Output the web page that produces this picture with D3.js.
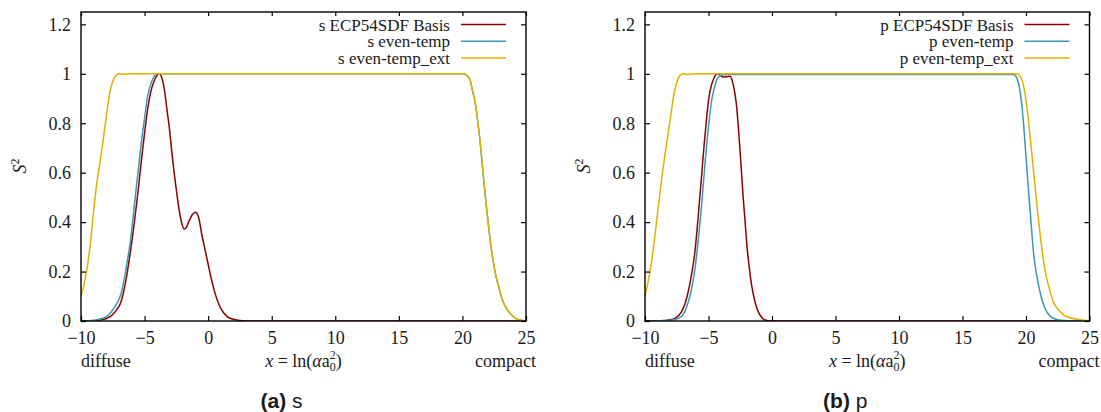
<!DOCTYPE html>
<html>
<head>
<meta charset="utf-8">
<script src="https://cdn.jsdelivr.net/npm/d3@7"></script>
<style>
  body { margin: 0; background: #fff; }
  svg text { font-family: "Liberation Serif", "DejaVu Serif", "Times New Roman", Times, serif; fill: #1a1a1a; }
  svg text.cap { font-family: "Liberation Sans", "DejaVu Sans", Arial, sans-serif; }
</style>
</head>
<body>
<div id="chart"></div>
<script>
const WIDTH = 1101;
const HEIGHT = 412;

// axis ticks
const xTicks = [-10, -5, 0, 5, 10, 15, 20, 25];
const yTicks = [0, 0.2, 0.4, 0.6, 0.8, 1, 1.2];

// s channel
const sRedX = [-10, -9, -8.5, -8, -7.6, -7.2, -6.85, -6.5, -6.2, -5.8, -5.5, -5.25, -5, -4.75, -4.5, -4.25, -4, -3.85, -3.65, -3.45, -3.25, -3.05, -2.85, -2.65, -2.45, -2.25, -2.05, -1.88, -1.7, -1.5, -1.25, -1, -0.75, -0.5, -0.25, 0, 0.25, 0.5, 1, 1.5, 2, 2.5, 3, 4, 25];
const sRedY = [0, 0.001, 0.004, 0.01, 0.022, 0.045, 0.078, 0.155, 0.25, 0.4, 0.53, 0.65, 0.76, 0.86, 0.93, 0.97, 0.995, 1, 0.985, 0.94, 0.86, 0.78, 0.68, 0.59, 0.51, 0.44, 0.39, 0.372, 0.38, 0.405, 0.43, 0.44, 0.42, 0.35, 0.29, 0.23, 0.17, 0.12, 0.05, 0.018, 0.007, 0.002, 0.0005, 0, 0];

const sBlueX = [-10, -9, -8.5, -8, -7.64, -7.25, -6.85, -6.6, -6.33, -6.07, -5.8, -5.54, -5.28, -5, -4.76, -4.5, -4.3, -4, 0, 10, 19.8];
const sBlueY = [0, 0.003, 0.008, 0.018, 0.035, 0.065, 0.11, 0.17, 0.25, 0.34, 0.47, 0.59, 0.71, 0.82, 0.91, 0.96, 0.985, 1, 1, 1, 1];

const sGoldX = [-10, -9.75, -9.5, -9.25, -9, -8.75, -8.5, -8.25, -8, -7.75, -7.5, -7.25, -7, -6.7, -6, 0, 10, 19.8];
const sGoldY = [0.1, 0.15, 0.22, 0.32, 0.45, 0.56, 0.645, 0.735, 0.83, 0.92, 0.97, 0.993, 1, 0.998, 1, 1, 1, 1];

// compact-side fall shared by s even-temp and s even-temp_ext
const sFallX = [20.1, 20.3, 20.6, 20.8, 21, 21.2, 21.4, 21.64, 21.85, 22.04, 22.25, 22.43, 22.62, 22.82, 23, 23.2, 23.5, 23.74, 24, 24.27, 24.6, 25];
const sFallY = [1, 0.995, 0.975, 0.93, 0.885, 0.81, 0.72, 0.59, 0.48, 0.39, 0.3, 0.24, 0.185, 0.146, 0.11, 0.078, 0.048, 0.031, 0.018, 0.008, 0.003, 0];

// p channel
const pRedX = [-10, -9, -8.5, -8, -7.64, -7.12, -6.85, -6.59, -6.33, -6.07, -5.8, -5.54, -5.35, -5.15, -4.95, -4.76, -4.55, -4.3, -4.1, -3.85, -3.6, -3.3, -3.15, -3.05, -2.92, -2.79, -2.66, -2.53, -2.4, -2.27, -2.13, -2, -1.8, -1.61, -1.35, -1.09, -0.8, -0.56, -0.3, 0, 25];
const pRedY = [0, 0.0005, 0.002, 0.005, 0.01, 0.038, 0.07, 0.12, 0.19, 0.28, 0.43, 0.59, 0.71, 0.82, 0.91, 0.955, 0.985, 1, 0.995, 0.987, 0.988, 0.99, 0.975, 0.955, 0.92, 0.87, 0.79, 0.7, 0.6, 0.5, 0.41, 0.32, 0.22, 0.146, 0.08, 0.038, 0.014, 0.004, 0.001, 0, 0];

const pBlueX = [-10, -9, -8.5, -8, -7.6, -7.12, -6.85, -6.59, -6.33, -6.07, -5.8, -5.54, -5.35, -5.15, -4.95, -4.76, -4.55, -4.36, -4.15, -3.97, -3.5, 0, 10, 19, 19.2, 19.4, 19.53, 19.66, 19.79, 19.92, 20.05, 20.18, 20.31, 20.44, 20.57, 20.7, 20.84, 21.03, 21.23, 21.43, 21.63, 21.9, 22.15, 22.5, 22.81, 23.3, 24, 25];
const pBlueY = [0, 0.0005, 0.001, 0.003, 0.007, 0.018, 0.04, 0.078, 0.13, 0.21, 0.33, 0.47, 0.59, 0.71, 0.81, 0.89, 0.94, 0.975, 0.99, 0.995, 0.997, 0.997, 0.997, 0.997, 0.99, 0.965, 0.93, 0.88, 0.81, 0.72, 0.63, 0.54, 0.455, 0.37, 0.29, 0.23, 0.186, 0.135, 0.092, 0.06, 0.038, 0.02, 0.011, 0.005, 0.003, 0.001, 0, 0];

const pGoldX = [-10, -9.75, -9.5, -9.25, -9, -8.75, -8.5, -8.25, -8, -7.75, -7.5, -7.25, -7, -6.7, -6, 0, 10, 19.3, 19.4, 19.6, 19.79, 19.98, 20.18, 20.37, 20.57, 20.77, 20.97, 21.16, 21.36, 21.56, 21.76, 21.95, 22.15, 22.4, 22.68, 22.9, 23.2, 23.6, 24, 24.5, 25];
const pGoldY = [0.1, 0.16, 0.235, 0.33, 0.44, 0.55, 0.645, 0.735, 0.82, 0.91, 0.965, 0.993, 1, 0.998, 1, 1, 1, 1, 0.998, 0.985, 0.955, 0.9, 0.82, 0.72, 0.62, 0.515, 0.415, 0.33, 0.25, 0.19, 0.146, 0.11, 0.078, 0.055, 0.038, 0.027, 0.018, 0.011, 0.007, 0.003, 0.001];

const COLORS = { red: '#8b0000', blue: '#3a98b3', gold: '#e2b100' };

function zip(xs, ys) {
  return xs.map((x, i) => ({ x, y: ys[i] }));
}

const panels = [
  {
    left: 81, right: 526, caption: 'a', name: 's',
    series: [
      { label: 's ECP54SDF Basis', color: COLORS.red, data: zip(sRedX, sRedY) },
      { label: 's even-temp', color: COLORS.blue, data: zip(sBlueX, sBlueY).concat(zip(sFallX, sFallY)) },
      { label: 's even-temp_ext', color: COLORS.gold, data: zip(sGoldX, sGoldY).concat(zip(sFallX, sFallY)) },
    ],
  },
  {
    left: 645, right: 1089.5, caption: 'b', name: 'p',
    series: [
      { label: 'p ECP54SDF Basis', color: COLORS.red, data: zip(pRedX, pRedY) },
      { label: 'p even-temp', color: COLORS.blue, data: zip(pBlueX, pBlueY) },
      { label: 'p even-temp_ext', color: COLORS.gold, data: zip(pGoldX, pGoldY) },
    ],
  },
];

const TOP = 12;
const BOTTOM = 321;
const SERIF = '"Liberation Serif", "DejaVu Serif", "Times New Roman", Times, serif';

const svg = d3.select('#chart')
  .append('svg')
  .attr('width', WIDTH)
  .attr('height', HEIGHT);

panels.forEach((p) => drawPanel(p));

function drawPanel(p) {
  const x = d3.scaleLinear().domain([-10, 25]).range([p.left, p.right]);
  const y = d3.scaleLinear().domain([0, 1.25]).range([BOTTOM, TOP]);
  const g = svg.append('g');

  // curves first, frame on top
  const line = d3.line()
    .x((d) => x(d.x))
    .y((d) => y(d.y))
    .curve(d3.curveMonotoneX);

  const clipId = 'clip-' + p.name;
  g.append('clipPath').attr('id', clipId)
    .append('rect')
    .attr('x', p.left).attr('y', TOP)
    .attr('width', p.right - p.left).attr('height', BOTTOM - TOP);

  p.series.forEach((s) => {
    g.append('path')
      .datum(s.data)
      .attr('clip-path', `url(#${clipId})`)
      .attr('fill', 'none')
      .attr('stroke', s.color)
      .attr('stroke-width', 1.5)
      .attr('stroke-linejoin', 'round')
      .attr('d', line);
  });

  // axes, ticks point inward
  const fmt = d3.format('~g');
  g.append('g')
    .attr('transform', `translate(0, ${BOTTOM})`)
    .call(d3.axisBottom(x).tickValues(xTicks).tickSizeInner(-5).tickSizeOuter(0).tickPadding(10));
  g.append('g')
    .attr('transform', `translate(${p.left}, 0)`)
    .call(d3.axisLeft(y).tickValues(yTicks).tickFormat(fmt).tickSizeInner(-5).tickSizeOuter(0).tickPadding(10));
  g.append('g')
    .attr('transform', `translate(0, ${TOP})`)
    .call(d3.axisTop(x).tickValues(xTicks).tickFormat('').tickSizeInner(-4).tickSizeOuter(0));
  g.append('g')
    .attr('transform', `translate(${p.right}, 0)`)
    .call(d3.axisRight(y).tickValues(yTicks).tickFormat('').tickSizeInner(-5).tickSizeOuter(0));

  g.selectAll('.domain').remove();
  g.selectAll('g.tick text')
    .style('font-family', SERIF)
    .style('font-size', '18px');
  g.selectAll('.tick line').attr('stroke', '#000').attr('stroke-width', 1.2);

  g.append('rect')
    .attr('x', p.left).attr('y', TOP)
    .attr('width', p.right - p.left).attr('height', BOTTOM - TOP)
    .attr('fill', 'none')
    .attr('stroke', '#000')
    .attr('stroke-width', 1.4);

  // y label
  const yl = g.append('text')
    .attr('transform', `translate(${p.left - 55}, 166) rotate(-90)`)
    .attr('text-anchor', 'middle')
    .style('font-size', '18px');
  yl.append('tspan').attr('font-style', 'italic').text('S');
  yl.append('tspan').style('font-size', '12px').attr('dy', -7).text('2');

  // x label
  const mid = (p.left + p.right) / 2;
  const xl = g.append('text')
    .attr('x', mid).attr('y', 367)
    .attr('text-anchor', 'middle')
    .style('font-size', '18px');
  xl.append('tspan').attr('font-style', 'italic').text('x');
  xl.append('tspan').text(' = ln(');
  xl.append('tspan').attr('font-style', 'italic').text('α');
  xl.append('tspan').text('a');
  xl.append('tspan').style('font-size', '12px').attr('dy', 4).text('0');
  xl.append('tspan').style('font-size', '12px').attr('dx', -6).attr('dy', -12).text('2');
  xl.append('tspan').attr('dy', 8).text(')');

  g.append('text')
    .attr('x', p.left).attr('y', 367)
    .style('font-size', '18px')
    .text('diffuse');
  g.append('text')
    .attr('x', p.right + 10).attr('y', 367)
    .attr('text-anchor', 'end')
    .style('font-size', '18px')
    .text('compact');

  // legend
  const rowY = [24.5, 41.3, 58.1];
  p.series.forEach((s, i) => {
    g.append('text')
      .attr('x', p.right - 76).attr('y', rowY[i] + 6)
      .attr('text-anchor', 'end')
      .style('font-size', '17px')
      .text(s.label);
    g.append('line')
      .attr('x1', p.right - 65).attr('x2', p.right - 20)
      .attr('y1', rowY[i]).attr('y2', rowY[i])
      .attr('stroke', s.color)
      .attr('stroke-width', 1.5);
  });

  // caption
  const cap = g.append('text')
    .attr('class', 'cap')
    .attr('x', mid - 22).attr('y', 408)
    .attr('text-anchor', 'middle')
    .style('font-size', '21px');
  cap.append('tspan').attr('font-weight', 'bold').text(`(${p.caption})`);
  cap.append('tspan').text(' ' + p.name);
}
</script>
</body>
</html>
